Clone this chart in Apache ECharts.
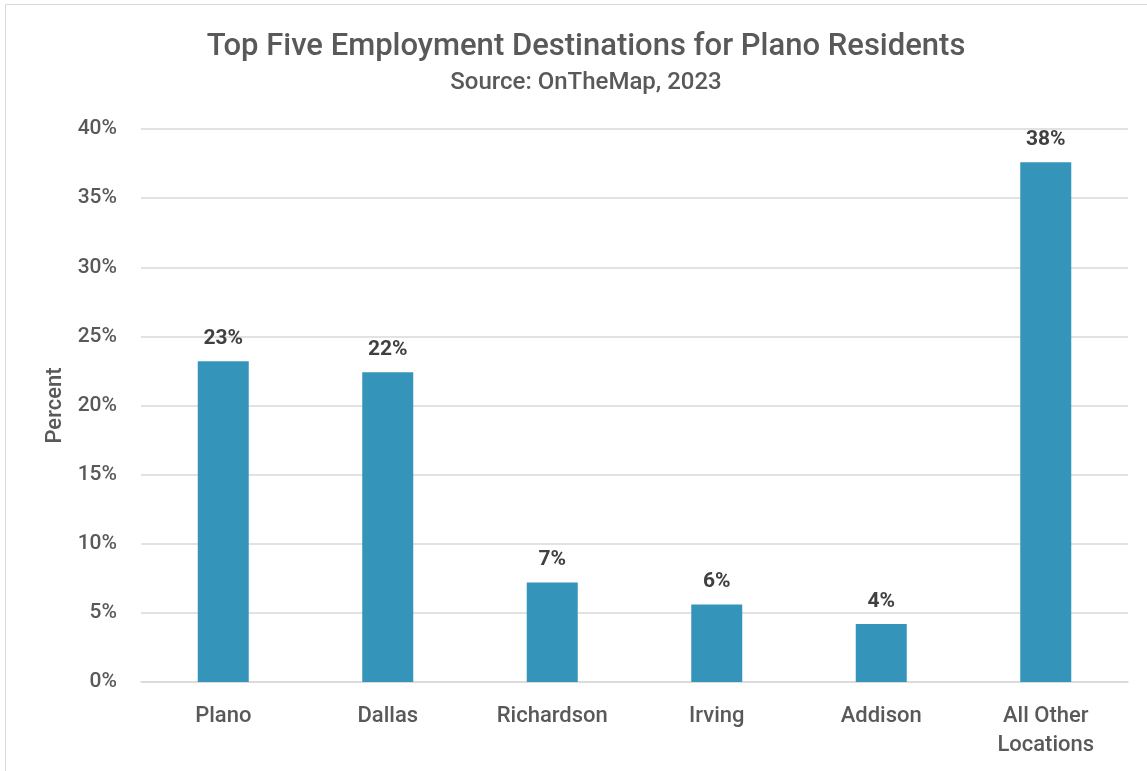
<!DOCTYPE html>
<html>
<head>
<meta charset="utf-8">
<script src="https://cdn.jsdelivr.net/npm/echarts@6/dist/echarts.min.js"></script>
<style>
  html, body { margin: 0; padding: 0; background: #fff; }
  #chart { width: 1147px; height: 771px; }
</style>
</head>
<body>
<div id="chart"></div>
<script>
// Work destinations of Plano residents, share of all jobs (%)
const categories = ['Plano', 'Dallas', 'Richardson', 'Irving', 'Addison', 'All Other\nLocations'];
const shares = [23.2, 22.4, 7.2, 5.6, 4.2, 37.6];
const yTicks = [0, 5, 10, 15, 20, 25, 30, 35, 40];

const FONT = 'Roboto';
const chart = echarts.init(document.getElementById('chart'));

chart.setOption({
  backgroundColor: '#ffffff',
  textStyle: { fontFamily: FONT },
  graphic: [{
    type: 'rect',
    shape: { x: 5.5, y: 4.5, width: 1160, height: 800 },
    style: { fill: 'none', stroke: '#d9d9d9', lineWidth: 1 },
    silent: true
  }],
  title: {
    text: 'Top Five Employment Destinations for Plano Residents',
    subtext: 'Source: OnTheMap, 2023',
    left: 581,
    textAlign: 'center',
    top: 27,
    itemGap: 8,
    textStyle: { fontFamily: FONT, fontSize: 31, fontWeight: 500, color: '#595959' },
    subtextStyle: { fontFamily: FONT, fontSize: 24, fontWeight: 500, color: '#595959' }
  },
  grid: { left: 141, right: 19, top: 129, bottom: 89 },
  xAxis: {
    type: 'category',
    data: categories,
    axisLine: { lineStyle: { color: '#d9d9d9', width: 1.5 } },
    axisTick: { show: false },
    axisLabel: {
      color: '#595959', fontSize: 22, fontWeight: 500, fontFamily: FONT, margin: 20, lineHeight: 29
    }
  },
  yAxis: {
    type: 'value',
    min: yTicks[0],
    max: yTicks[yTicks.length - 1],
    interval: yTicks[1] - yTicks[0],
    name: 'Percent',
    nameLocation: 'middle',
    nameGap: 74,
    nameRotate: 90,
    nameTextStyle: { color: '#595959', fontSize: 22, fontWeight: 500, fontFamily: FONT },
    axisLine: { show: false },
    axisTick: { show: false },
    splitLine: { lineStyle: { color: '#d9d9d9', width: 1.5 } },
    axisLabel: {
      color: '#595959', fontSize: 21, fontWeight: 500, fontFamily: FONT, margin: 24,
      formatter: v => v + '%'
    }
  },
  series: [{
    type: 'bar',
    data: shares,
    barWidth: 51,
    itemStyle: { color: '#3494ba' },
    label: {
      show: true,
      position: 'top',
      distance: 12,
      color: '#404040',
      fontSize: 21,
      fontWeight: 'bold',
      fontFamily: FONT,
      formatter: p => Math.round(p.value) + '%'
    }
  }]
});
</script>
</body>
</html>
